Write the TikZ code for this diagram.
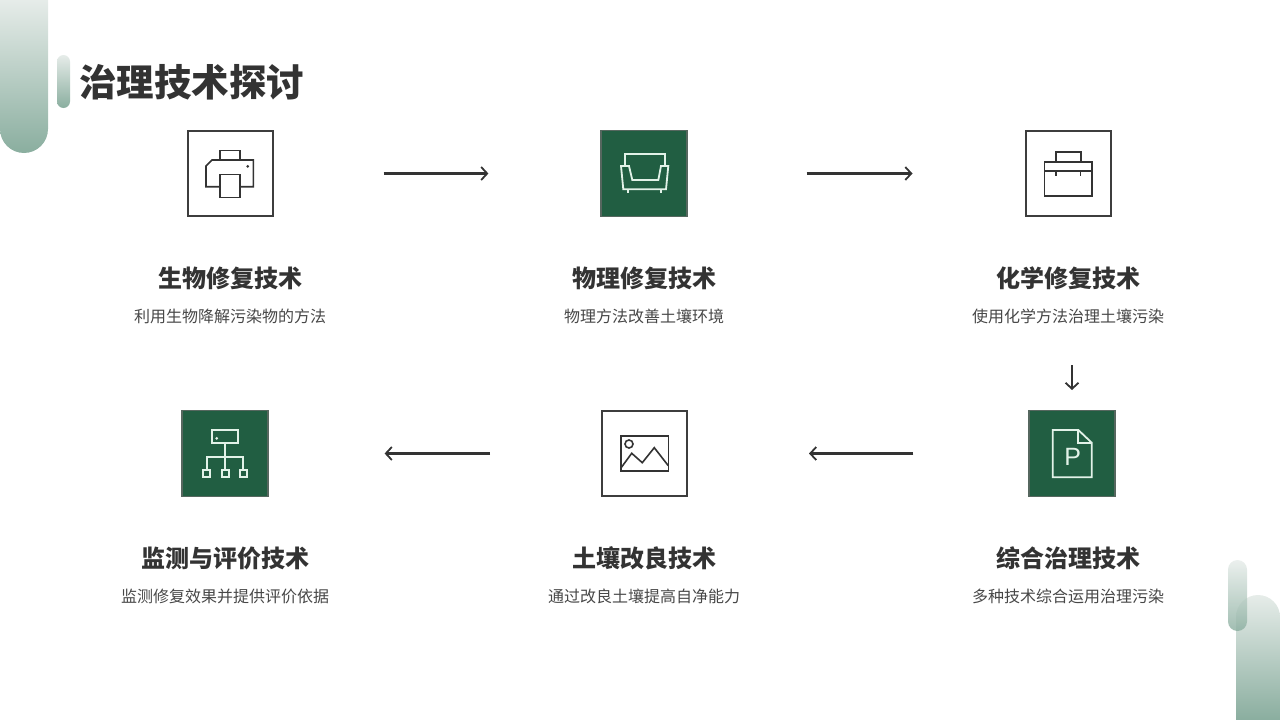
\documentclass[tikz,border=0pt]{standalone}
\usepackage{fontspec}
\usepackage{xcolor}
\usetikzlibrary{arrows.meta}
\newfontfamily\cjk{Noto Sans CJK SC}
\newfontfamily\latinfont{Liberation Sans}
\definecolor{inkgray}{HTML}{333333}
\definecolor{deepgreen}{HTML}{215E42}
\definecolor{mintline}{HTML}{E2F2E8}
\definecolor{fadetop}{HTML}{E6ECE9}
\definecolor{fadebot}{HTML}{8AAE9F}
\tikzset{%
  tipA/.tip={Straight Barb[length=6pt,width=13pt,line width=1.8pt]},
  whitebox/.style={draw=inkgray!95,line width=2pt,fill=white,minimum size=85pt,inner sep=0pt},
  greenbox/.style={draw=black!60!deepgreen!70,line width=1.2pt,fill=deepgreen,minimum size=86pt,inner sep=0pt},
  darkicon/.style={draw=inkgray,line width=1.6pt},
  lighticon/.style={draw=mintline,line width=1.8pt},
  headtext/.style={font=\cjk\bfseries\fontsize{24}{28}\selectfont,text=inkgray,inner sep=0pt},
  desctext/.style={font=\cjk\fontsize{16}{20}\selectfont,text=inkgray!90,inner sep=0pt},
  flowarrow/.style={draw=inkgray,line width=2.2pt,-tipA},
  fadebar/.style={top color=fadetop,bottom color=fadebot,draw=none}
}

\begin{document}
\begin{tikzpicture}[x=1pt,y=-1pt]
\useasboundingbox (0,0) rectangle (1280,720);

\shade[fadebar] (0,0) -- (48,0) -- (48,129) arc[start angle=0,end angle=180,radius=24] -- cycle;
\shade[fadebar] (57,61.5) arc[start angle=180,end angle=360,radius=6.5] -- (70,101.5) arc[start angle=0,end angle=180,radius=6.5] -- cycle;
\shade[fadebar] (1236,617) arc[start angle=180,end angle=360,radius=22] -- (1280,720) -- (1236,720) -- cycle;
\shade[fadebar,opacity=.8] (1228,569.5) arc[start angle=180,end angle=360,radius=9.5] -- (1247,621.5) arc[start angle=0,end angle=180,radius=9.5] -- cycle;

\node[font=\cjk\bfseries\fontsize{37.5}{42}\selectfont,text=inkgray,inner sep=0pt] (title) at (191.5,82) {治理技术探讨};

\node[whitebox] (bio) at (230,173.5) {};
\node[greenbox] (phys) at (644,173.5) {};
\node[whitebox] (chem) at (1068,173.5) {};
\node[greenbox] (comb) at (1072,453.5) {};
\node[whitebox] (soil) at (644.5,453.5) {};
\node[greenbox] (moni) at (225,453.5) {};

\node[headtext] (biohead) at (230,278.5) {生物修复技术};
\node[headtext] (physhead) at (644,278.5) {物理修复技术};
\node[headtext] (chemhead) at (1068,278.5) {化学修复技术};
\node[headtext] (combhead) at (1068,558.5) {综合治理技术};
\node[headtext] (soilhead) at (644,558.5) {土壤改良技术};
\node[headtext] (monihead) at (225,558.5) {监测与评价技术};

\node[desctext] (biodesc) at (230,316) {利用生物降解污染物的方法};
\node[desctext] (physdesc) at (644,316) {物理方法改善土壤环境};
\node[desctext] (chemdesc) at (1068,316) {使用化学方法治理土壤污染};
\node[desctext] (combdesc) at (1068,596) {多种技术综合运用治理污染};
\node[desctext] (soildesc) at (644,596) {通过改良土壤提高自净能力};
\node[desctext] (monidesc) at (225,596) {监测修复效果并提供评价依据};

\coordinate (downtop) at (1072,365);
\coordinate (downend) at (1072,390);
\draw[flowarrow,shorten <=110pt,shorten >=112pt] (bio) -- (phys);
\draw[flowarrow,shorten <=119pt,shorten >=112pt] (phys) -- (chem);
\draw[flowarrow] (downtop) -- (downend);
\draw[flowarrow,shorten <=115pt,shorten >=121pt] (comb) -- (soil);
\draw[flowarrow,shorten <=111pt,shorten >=116pt] (soil) -- (moni);

\draw[darkicon] (220,160) -- (220,150.3) -- (240,150.3) -- (240,160);
\draw[darkicon] (220,186.7) -- (206,186.7) -- (206,166) -- (212,160) -- (253.3,160) -- (253.3,186.7) -- (240,186.7);
\draw[darkicon] (220,174.3) rectangle (240,197.3);
\fill[inkgray] (247.7,166.3) circle (1.5);

\draw[lighticon] (625,165) -- (625,154) -- (665,154) -- (665,165);
\draw[lighticon] (621,166) -- (629,166) -- (632.3,180) -- (658.3,180) -- (661,166) -- (668.3,166) -- (666,189.3) -- (623.3,189.3) -- cycle;
\draw[lighticon] (627.7,189.3) -- (627.7,193);
\draw[lighticon] (660.7,189.3) -- (660.7,193);

\draw[darkicon] (1055.7,161.7) -- (1055.7,151.7) -- (1081,151.7) -- (1081,161.7);
\draw[darkicon] (1044.3,161.7) rectangle (1091.7,195.7);
\draw[darkicon] (1044.3,171) -- (1091.7,171);
\draw[darkicon] (1055.7,171) -- (1055.7,176);
\draw[darkicon] (1080.3,171) -- (1080.3,176);

\draw[lighticon] (1052.7,430) -- (1078.3,430) -- (1091.7,442.7) -- (1091.7,477.3) -- (1052.7,477.3) -- cycle;
\draw[lighticon] (1078.3,430) -- (1078.3,442.7) -- (1091.7,442.7);
\node[font=\latinfont\fontsize{25}{28}\selectfont,text=mintline,inner sep=0pt] (doclabel) at (1072.7,456.7) {P};

\draw[darkicon] (620.7,435.7) rectangle (668.3,471);
\draw[darkicon] (629,444) circle (4);
\draw[darkicon] (620.7,468.3) -- (631.7,453.3) -- (642.3,462.7) -- (654.3,447.7) -- (668.3,465.7);

\draw[lighticon] (211.7,430) rectangle (238.3,442.7);
\fill[mintline] (216.7,438.3) circle (1.5);
\draw[lighticon] (225,442.7) -- (225,469.7);
\draw[lighticon] (206.7,469.7) -- (206.7,457) -- (243.3,457) -- (243.3,469.7);
\draw[lighticon] (203,469.7) rectangle (210.3,477.3);
\draw[lighticon] (221.7,469.7) rectangle (229,477.3);
\draw[lighticon] (239.7,469.7) rectangle (247,477.3);
\end{tikzpicture}
\end{document}
